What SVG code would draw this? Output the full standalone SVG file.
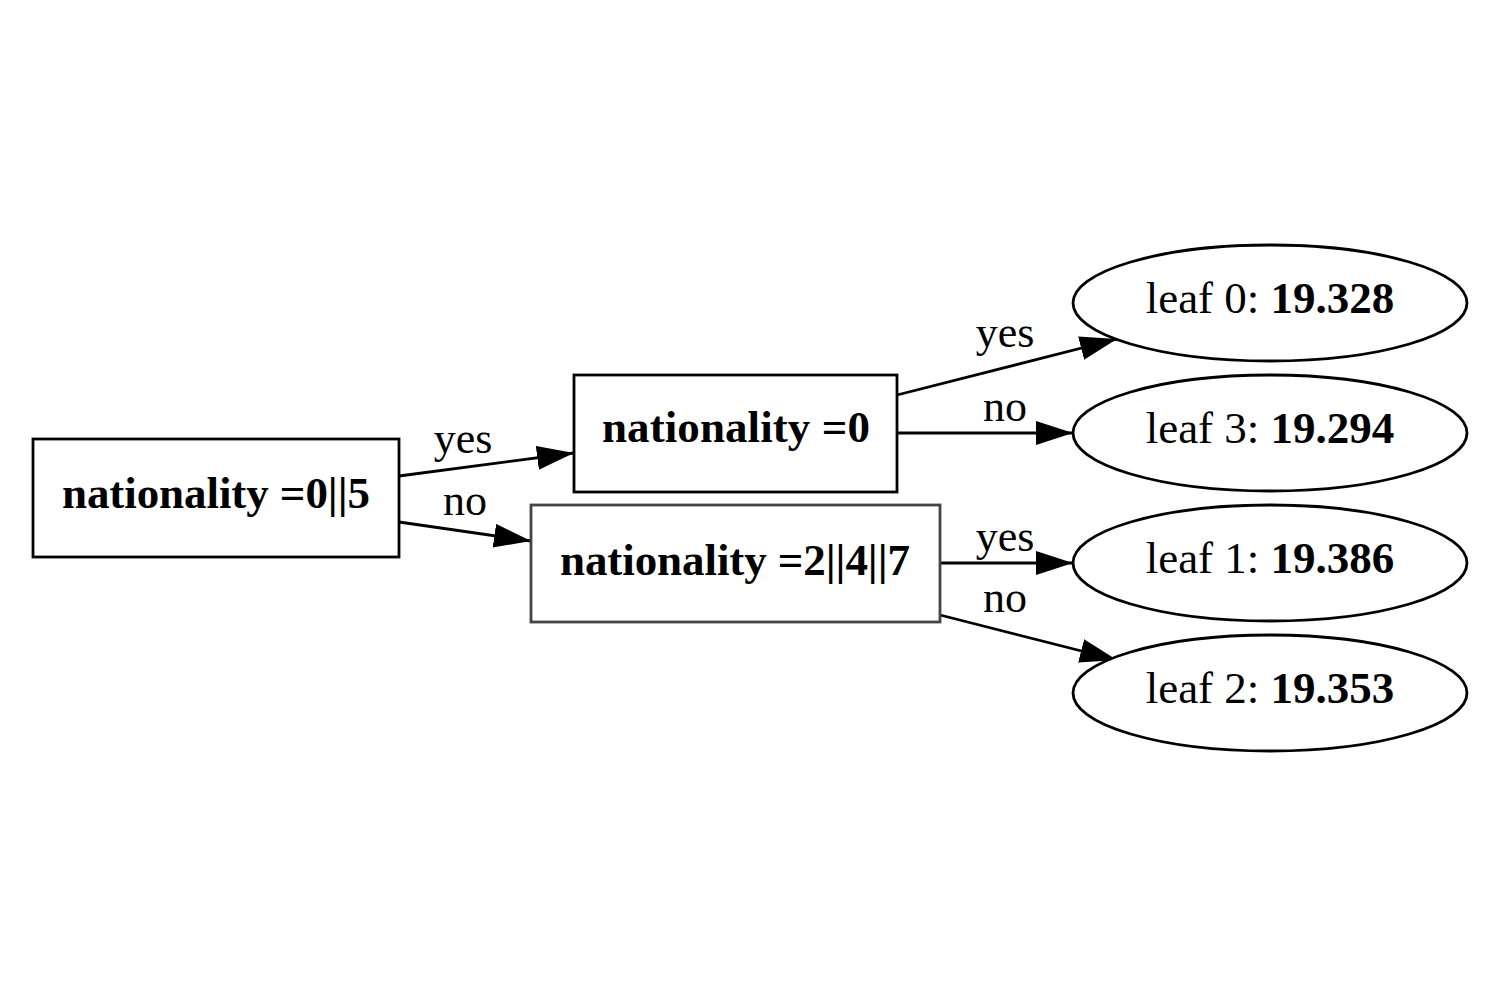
<svg xmlns="http://www.w3.org/2000/svg" width="1500" height="1000" viewBox="0 0 1500 1000">
<style>
text{font-family:"Liberation Serif","Times New Roman",serif;font-size:44px;fill:#000}
.n{font-size:45px}
.b{font-weight:bold}
.node rect,.node ellipse{fill:#fff;stroke:#000;stroke-width:2.8}
.edge line{stroke:#000;stroke-width:2.8}
.lbl{text-anchor:middle}
</style>
<defs>
<marker id="ah" markerUnits="userSpaceOnUse" markerWidth="40" markerHeight="26" refX="37" refY="12" orient="auto">
<path d="M0,0 L37,12 L0,24 z" fill="#000"/>
</marker>
</defs>
<rect width="1500" height="1000" fill="#fff"/>
<g id="edges" class="edge">
<line x1="399" y1="476" x2="574" y2="453" marker-end="url(#ah)"/>
<line x1="399" y1="522" x2="531" y2="541" marker-end="url(#ah)"/>
<line x1="897" y1="395" x2="1117" y2="339" marker-end="url(#ah)"/>
<line x1="897" y1="433" x2="1073" y2="433" marker-end="url(#ah)"/>
<line x1="940" y1="563" x2="1073" y2="563" marker-end="url(#ah)"/>
<line x1="940" y1="615" x2="1117" y2="660" marker-end="url(#ah)"/>
<text class="lbl" x="463" y="453">yes</text>
<text class="lbl" x="465" y="515">no</text>
<text class="lbl" x="1005" y="347">yes</text>
<text class="lbl" x="1005" y="421">no</text>
<text class="lbl" x="1005" y="551">yes</text>
<text class="lbl" x="1005" y="612">no</text>
</g>
<g id="node0" class="node">
<rect x="33" y="439" width="366" height="118"/>
<text class="n b lbl" x="216" y="508" textLength="308" lengthAdjust="spacing">nationality =0||5</text>
</g>
<g id="node1" class="node">
<rect x="574" y="375" width="323" height="117"/>
<text class="n b lbl" x="736" y="442" textLength="268" lengthAdjust="spacing">nationality =0</text>
</g>
<g id="node2" class="node">
<rect x="531" y="505" width="409" height="117" style="stroke:#444"/>
<text class="n b lbl" x="735" y="575" textLength="350" lengthAdjust="spacing">nationality =2||4||7</text>
</g>
<g id="leaf0" class="node">
<ellipse cx="1270" cy="303" rx="197" ry="58"/>
<text class="n lbl" x="1270" y="313">leaf 0: <tspan class="b">19.328</tspan></text>
</g>
<g id="leaf3" class="node">
<ellipse cx="1270" cy="433" rx="197" ry="58"/>
<text class="n lbl" x="1270" y="443">leaf 3: <tspan class="b">19.294</tspan></text>
</g>
<g id="leaf1" class="node">
<ellipse cx="1270" cy="563" rx="197" ry="58"/>
<text class="n lbl" x="1270" y="573">leaf 1: <tspan class="b">19.386</tspan></text>
</g>
<g id="leaf2" class="node">
<ellipse cx="1270" cy="693" rx="197" ry="58"/>
<text class="n lbl" x="1270" y="703">leaf 2: <tspan class="b">19.353</tspan></text>
</g>
</svg>
